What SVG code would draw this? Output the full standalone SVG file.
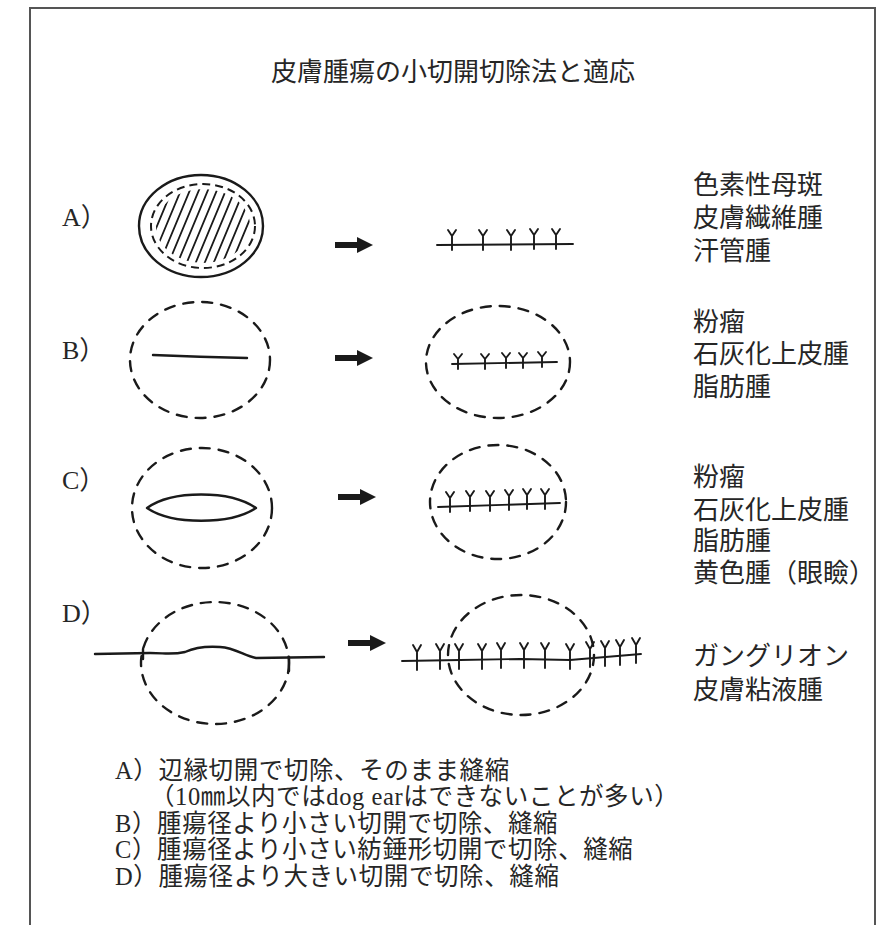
<svg xmlns="http://www.w3.org/2000/svg" xmlns:xlink="http://www.w3.org/1999/xlink" width="880" height="925" viewBox="0 0 880 925">
  <style>
    .t { font-family: "Liberation Serif", "Noto Sans CJK JP", serif; fill: #262626; }
    .title { font-size: 26px; }
    .lbl { font-size: 26px; }
    .ind { font-size: 26px; }
    .note { font-size: 24.5px; letter-spacing: 0.6px; }
    .solid { fill: none; stroke: #1a1a1a; stroke-width: 2.4; stroke-linecap: round; stroke-linejoin: round; }
    .dash { fill: none; stroke: #1a1a1a; stroke-width: 2.4; stroke-dasharray: 10 9; stroke-linecap: round; }
    .dashfine { fill: none; stroke: #1a1a1a; stroke-width: 2; stroke-dasharray: 8 5; }
    .hatch { fill: none; stroke: #1a1a1a; stroke-width: 1.8; stroke-linecap: round; }
    .stitch { fill: none; stroke: #1a1a1a; stroke-width: 1.9; stroke-linecap: round; stroke-linejoin: round; }
    .frame { fill: none; stroke: #555; stroke-width: 2; }
  </style>
  <defs>
    <!-- suture stitch: stem crossing the wound with a small V on top -->
    <path id="tk" d="M0,5 V-9 M0,-9 L-4,-15 M0,-9 L4,-15"/>
    <path id="tkS" d="M0,5 V-5 M0,-5 L-4,-10 M0,-5 L4,-10"/>
    <path id="tkL" d="M0,9 V-9 M0,-9 L-4,-16 M0,-9 L4,-16"/>
    <!-- short bold arrow -->
    <path id="arrow" d="M0,-3 H22 V-8 L38,0 L22,8 V3 H0 Z" fill="#1a1a1a"/>
    <clipPath id="hatchClip">
      <ellipse cx="203" cy="226" rx="47" ry="37"/>
    </clipPath>
  </defs>

  <rect width="880" height="925" fill="#ffffff"/>
  <path class="frame" d="M30,925 V8 H875 V925"/>

  <text class="t title" x="453" y="81" text-anchor="middle">皮膚腫瘍の小切開切除法と適応</text>

  <!-- A: marginal excision, direct closure -->
  <g id="row-a">
    <text class="t lbl" x="62" y="226">A）</text>
    <ellipse class="solid" cx="201" cy="226" rx="62" ry="51"/>
    <ellipse class="dashfine" cx="203" cy="226" rx="52" ry="42"/>
    <g class="hatch" clip-path="url(#hatchClip)">
      <path d="M132,286 L182,166 M141,286 L191,166 M150,286 L200,166 M159,286 L209,166 M168,286 L218,166 M177,286 L227,166 M186,286 L236,166 M195,286 L245,166 M204,286 L254,166 M213,286 L263,166 M222,286 L272,166 M231,286 L281,166"/>
    </g>
    <g class="stitch">
      <path d="M437,245 L573,244"/>
      <use xlink:href="#tk" x="452" y="245"/>
      <use xlink:href="#tk" x="483" y="245"/>
      <use xlink:href="#tk" x="511" y="245"/>
      <use xlink:href="#tk" x="534" y="244"/>
      <use xlink:href="#tk" x="556" y="244"/>
    </g>
    <g class="t ind">
      <text x="693" y="194">色素性母斑</text>
      <text x="693" y="227">皮膚繊維腫</text>
      <text x="693" y="260">汗管腫</text>
    </g>
  </g>

  <!-- B: incision smaller than the tumour -->
  <g id="row-b">
    <text class="t lbl" x="62" y="359">B）</text>
    <ellipse class="dash" cx="200" cy="360" rx="70" ry="58"/>
    <path class="solid" d="M153,355 Q200,357 247,358"/>
    <ellipse class="dash" cx="498" cy="362" rx="72" ry="56"/>
    <g class="stitch">
      <path d="M452,364 L557,362"/>
      <use xlink:href="#tkS" x="458" y="364"/>
      <use xlink:href="#tkS" x="485" y="364"/>
      <use xlink:href="#tkS" x="506" y="363"/>
      <use xlink:href="#tkS" x="523" y="363"/>
      <use xlink:href="#tkS" x="542" y="362"/>
    </g>
    <g class="t ind">
      <text x="693" y="331">粉瘤</text>
      <text x="693" y="363">石灰化上皮腫</text>
      <text x="693" y="396">脂肪腫</text>
    </g>
  </g>

  <!-- C: spindle-shaped incision smaller than the tumour -->
  <g id="row-c">
    <text class="t lbl" x="62" y="489">C）</text>
    <ellipse class="dash" cx="202" cy="508" rx="70" ry="60"/>
    <path class="solid" d="M147,508 C172,490 230,490 256,508 C230,525 172,525 147,508 Z"/>
    <ellipse class="dash" cx="498" cy="502" rx="68" ry="57"/>
    <g class="stitch">
      <path d="M438,507 L560,503"/>
      <use xlink:href="#tk" x="450" y="507"/>
      <use xlink:href="#tk" x="470" y="506"/>
      <use xlink:href="#tk" x="490" y="506"/>
      <use xlink:href="#tk" x="509" y="505"/>
      <use xlink:href="#tk" x="527" y="504"/>
      <use xlink:href="#tk" x="545" y="504"/>
    </g>
    <g class="t ind">
      <text x="693" y="486">粉瘤</text>
      <text x="693" y="519">石灰化上皮腫</text>
      <text x="693" y="550">脂肪腫</text>
      <text x="693" y="582">黄色腫（眼瞼）</text>
    </g>
  </g>

  <!-- D: incision larger than the tumour -->
  <g id="row-d">
    <text class="t lbl" x="62" y="622">D）</text>
    <ellipse class="dash" cx="215" cy="663" rx="74" ry="61"/>
    <path class="solid" d="M95,654 L150,653 C165,653 172,655 185,652 C196,647 206,646 220,647 C236,648 244,656 256,658 L324,657"/>
    <path class="solid" d="M143,649 V659 M289,657 V671"/>
    <ellipse class="dash" cx="521" cy="655" rx="73" ry="60"/>
    <g class="stitch">
      <path d="M402,661 L460,660 L520,659 L570,660 L641,654"/>
      <use xlink:href="#tkL" x="417" y="661"/>
      <use xlink:href="#tkL" x="440" y="660"/>
      <use xlink:href="#tkL" x="459" y="660"/>
      <use xlink:href="#tkL" x="482" y="660"/>
      <use xlink:href="#tkL" x="501" y="659"/>
      <use xlink:href="#tkL" x="524" y="659"/>
      <use xlink:href="#tkL" x="545" y="659"/>
      <use xlink:href="#tkL" x="570" y="660"/>
      <use xlink:href="#tkL" x="590" y="658"/>
      <use xlink:href="#tkL" x="605" y="657"/>
      <use xlink:href="#tkL" x="620" y="656"/>
      <use xlink:href="#tkL" x="636" y="654"/>
    </g>
    <g class="t ind">
      <text x="693" y="665">ガングリオン</text>
      <text x="693" y="699">皮膚粘液腫</text>
    </g>
  </g>

  <!-- arrows from incision to closure -->
  <g id="connectors">
    <use xlink:href="#arrow" x="335" y="245"/>
    <use xlink:href="#arrow" x="335" y="358"/>
    <use xlink:href="#arrow" x="338" y="497"/>
    <use xlink:href="#arrow" x="348" y="643"/>
  </g>

  <g id="notes" class="t note">
    <text x="115" y="779">A）辺縁切開で切除、そのまま縫縮</text>
    <text x="150" y="805">（10㎜以内ではdog earはできないことが多い）</text>
    <text x="115" y="832">B）腫瘍径より小さい切開で切除、縫縮</text>
    <text x="115" y="858">C）腫瘍径より小さい紡錘形切開で切除、縫縮</text>
    <text x="115" y="885">D）腫瘍径より大きい切開で切除、縫縮</text>
  </g>
</svg>
